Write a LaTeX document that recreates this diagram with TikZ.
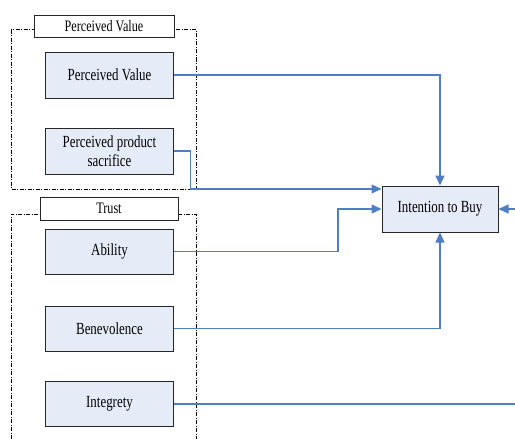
\documentclass[tikz,border=0pt]{standalone}
\usepackage{fontspec}
\setmainfont[FakeStretch=0.76]{Liberation Serif}
\usepackage{tikz}
\usetikzlibrary{arrows.meta}

\definecolor{boxfill}{HTML}{E6ECF7}
\definecolor{linkblue}{HTML}{4F7EC4}

\begin{document}
\begin{tikzpicture}[x=1pt, y=-1pt,
  factor/.style={draw=black!85, line width=1pt, fill=boxfill, inner sep=2pt,
    minimum width=128pt, minimum height=46pt, align=center,
    font=\fontsize{17}{19}\selectfont},
  grouptitle/.style={draw=black!85, line width=0.9pt, fill=white, inner sep=0pt,
    minimum height=22pt, font=\fontsize{16}{19}\selectfont},
  groupframe/.style={line width=0.8pt, dash pattern=on 4pt off 1.5pt on 1pt off 1.5pt},
  link/.style={draw=linkblue, line width=1.2pt},
  linkarrow/.style={link, -{Triangle[length=10pt,width=9pt]}}]

\useasboundingbox (0,0) rectangle (515,439);

% group frames
\draw[groupframe] (11,29.5) rectangle (196,189);
\draw[groupframe] (11,439) -- (11,214) -- (196,214) -- (196,439);

\node[grouptitle, minimum width=140pt] (pvtitle) at (104,26) {Perceived Value};
\node[grouptitle, minimum width=138pt, minimum height=23pt] (trusttitle) at (109,208.5) {Trust};

\node[factor] (pv) at (109.5,75) {Perceived Value};
\node[factor] (pps) at (109.5,151) {Perceived product\\sacrifice};
\node[factor, minimum height=45pt] (ability) at (109.5,251.5) {Ability};
\node[factor, minimum height=45pt] (benev) at (109.5,328.5) {Benevolence};
\node[factor, minimum height=45pt] (integ) at (109.5,404) {Integrety};

\node[factor, minimum width=116pt] (itb) at (440,209) {Intention to Buy};

\coordinate (ppsbend) at (190.5,189);
\coordinate (abbend) at (338,251.5);
\coordinate (loopin) at (515,209);
\coordinate (loopout) at (515,404);

% connectors
\draw[linkarrow] (pv.east) -| (itb.north);
\draw[linkarrow] (pps.east) -| (ppsbend) -- (itb.west |- ppsbend);
\draw[linkarrow] (ability.east) -- (abbend) |- (itb.west);
\draw[linkarrow] (benev.east) -| (itb.south);
\draw[linkarrow] (loopin) -- (itb.east);
\draw[link] (integ.east) -- (loopout);

\end{tikzpicture}
\end{document}
